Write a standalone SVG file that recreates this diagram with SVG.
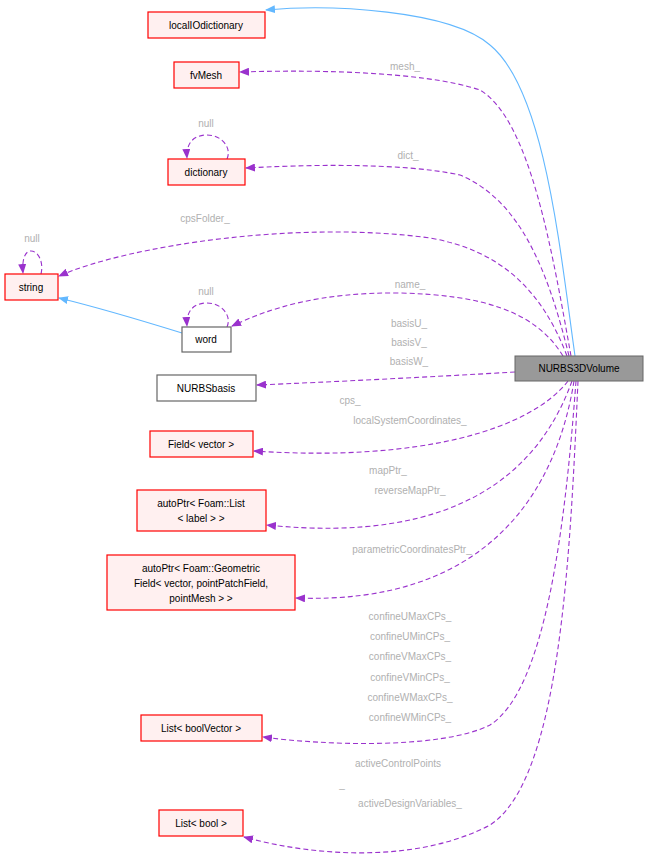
<svg xmlns="http://www.w3.org/2000/svg" width="649" height="859" viewBox="0 0 649 859">
<style>
.n{fill:#fff0f0;stroke:#ff0000;stroke-width:1.2}
.g{fill:#fff;stroke:#666;stroke-width:1.2}
text{font-family:"Liberation Sans",Arial,sans-serif;font-size:10px;text-anchor:middle}
.l{fill:#b0b0b0}
.e{fill:none;stroke:#9a32cd;stroke-width:1.1;stroke-dasharray:5,3}
.s{fill:none;stroke:#63b8ff;stroke-width:1.1}
</style>
<defs>
<marker id="ap" markerWidth="10" markerHeight="8" refX="9" refY="4" orient="auto" markerUnits="userSpaceOnUse"><path d="M0,0L10,4L0,8z" fill="#9a32cd"/></marker>
<marker id="ab" markerWidth="10" markerHeight="8" refX="9" refY="4" orient="auto" markerUnits="userSpaceOnUse"><path d="M0,0L10,4L0,8z" fill="#63b8ff"/></marker>
</defs>
<g id="edges">
<path class="s" marker-end="url(#ab)" d="M575,356 C560,250 545,90 490,45 C450,10 330,4 266,10"/>
<path class="e" marker-end="url(#ap)" d="M571,356 C552,250 530,120 480,90 C420,70 300,70 240,72"/>
<text class="l" x="405" y="70">mesh_</text>
<path class="e" marker-end="url(#ap)" d="M569,356 C548,270 520,200 460,175 C400,162 300,165 246,168"/>
<text class="l" x="408" y="159">dict_</text>
<path class="e" marker-end="url(#ap)" d="M567,356 C542,290 500,250 430,238 C300,220 130,245 59,276"/>
<text class="l" x="205" y="222">cpsFolder_</text>
<path class="e" marker-end="url(#ap)" d="M563,356 C535,310 480,295 400,293 C320,292 270,308 232,326"/>
<text class="l" x="410" y="288">name_</text>
<path class="e" marker-end="url(#ap)" d="M515,372 C430,377 330,382 257,385"/>
<text class="l" x="409" y="327">basisU_</text>
<text class="l" x="409" y="346">basisV_</text>
<text class="l" x="409" y="365">basisW_</text>
<path class="e" marker-end="url(#ap)" d="M568,381 C530,430 420,462 254,451"/>
<text class="l" x="350" y="404">cps_</text>
<text class="l" x="410" y="424">localSystemCoordinates_</text>
<path class="e" marker-end="url(#ap)" d="M572,381 C540,470 460,545 267,525"/>
<text class="l" x="388" y="474">mapPtr_</text>
<text class="l" x="410" y="494">reverseMapPtr_</text>
<path class="e" marker-end="url(#ap)" d="M574,381 C555,500 480,605 296,598"/>
<text class="l" x="412" y="553">parametricCoordinatesPtr_</text>
<path class="e" marker-end="url(#ap)" d="M576,381 C565,530 545,690 490,725 C440,750 320,745 263,737"/>
<text class="l" x="410" y="620">confineUMaxCPs_</text>
<text class="l" x="410" y="640">confineUMinCPs_</text>
<text class="l" x="410" y="660">confineVMaxCPs_</text>
<text class="l" x="410" y="681">confineVMinCPs_</text>
<text class="l" x="410" y="701">confineWMaxCPs_</text>
<text class="l" x="410" y="721">confineWMinCPs_</text>
<path class="e" marker-end="url(#ap)" d="M578,381 C570,560 560,780 490,825 C420,862 320,858 244,837"/>
<text class="l" x="398" y="767">activeControlPoints</text>
<text class="l" x="342" y="788">_</text>
<text class="l" x="410" y="807">activeDesignVariables_</text>
<path class="e" marker-end="url(#ap)" d="M227,159 C232,148 222,135 207,135 C192,135 186,145 187,158"/>
<text class="l" x="206" y="127">null</text>
<path class="e" marker-end="url(#ap)" d="M41,274 C44,262 38,251 31,251 C24,251 22,262 23,273"/>
<text class="l" x="32" y="242">null</text>
<path class="e" marker-end="url(#ap)" d="M227,327 C232,316 222,303 207,303 C192,303 186,313 187,326"/>
<text class="l" x="206" y="295">null</text>
<path class="s" marker-end="url(#ab)" d="M182,333 C140,320 100,308 59,298"/>
</g>
<g id="NURBS3DVolume"><rect x="515" y="356" width="128" height="25" fill="#999" stroke="#666"/><text x="579" y="372">NURBS3DVolume</text></g>
<g id="localIOdictionary"><rect class="n" x="148" y="12" width="117" height="26"/><text x="206" y="29">localIOdictionary</text></g>
<g id="fvMesh"><rect class="n" x="174" y="62" width="65" height="26"/><text x="206" y="79">fvMesh</text></g>
<g id="dictionary"><rect class="n" x="168" y="159" width="77" height="26"/><text x="206" y="176">dictionary</text></g>
<g id="string"><rect class="n" x="5" y="274" width="53" height="26"/><text x="31" y="291">string</text></g>
<g id="word"><rect class="g" x="182" y="327" width="49" height="25"/><text x="206" y="343">word</text></g>
<g id="NURBSbasis"><rect class="g" x="157" y="375" width="99" height="26"/><text x="206" y="392">NURBSbasis</text></g>
<g id="FieldVector"><rect class="n" x="150" y="431" width="103" height="26"/><text x="201" y="448">Field&lt; vector &gt;</text></g>
<g id="autoPtrList"><rect class="n" x="137" y="490" width="129" height="41"/><text x="201" y="507">autoPtr&lt; Foam::List</text><text x="201" y="522">&lt; label &gt; &gt;</text></g>
<g id="autoPtrGeometric"><rect class="n" x="107" y="555" width="188" height="55"/><text x="201" y="572">autoPtr&lt; Foam::Geometric</text><text x="201" y="587">Field&lt; vector, pointPatchField,</text><text x="201" y="602">pointMesh &gt; &gt;</text></g>
<g id="ListBoolVector"><rect class="n" x="141" y="715" width="121" height="26"/><text x="201" y="732">List&lt; boolVector &gt;</text></g>
<g id="ListBool"><rect class="n" x="159" y="810" width="84" height="26"/><text x="201" y="827">List&lt; bool &gt;</text></g>
</svg>
